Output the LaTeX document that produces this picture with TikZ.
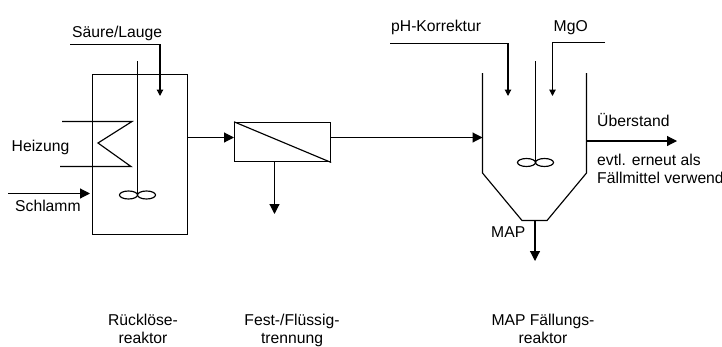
\documentclass[tikz,border=0pt]{standalone}
\usepackage{fontspec}
\setmainfont{Liberation Sans}
\usetikzlibrary{arrows.meta}
\tikzset{
 line/.style={draw=black,line width=1.15pt},
 flow/.style={line,-{Triangle[length=10pt,width=10pt]}},
 feed/.style={line,-{Triangle[length=6.5pt,width=6.5pt]}},
 lab/.style={inner sep=0pt,font=\fontsize{15.7}{17.3}\selectfont,text=black},
 captext/.style={lab,align=center,anchor=base}
}
\begin{document}
\begin{tikzpicture}[x=1pt,y=-1pt]
\useasboundingbox (0,0) rectangle (722,346);
\clip (0,0) rectangle (722,346);
% Ruecklösereaktor
\node[line,minimum width=95.2pt,minimum height=160pt,inner sep=0pt,anchor=north west] (rl) at (91.5,73.5) {};
\coordinate (rlin) at (8,193.5);
\coordinate (sa) at (70,44.5);
\coordinate (sb) at (160,44.5);
\coordinate (sc) at (160,96);
\draw[feed] (sa) -- (sb) -- (sc);
\coordinate (sh1) at (137.5,61);
\coordinate (sh2) at (137.5,195);
\draw[line] (sh1) -- (sh2);
\draw[line] (128.5,195) ellipse (9 and 4);
\draw[line] (146.5,195) ellipse (9 and 4);
\draw[line] (62,121.5) -- (132,121.5) -- (98,143) -- (131,166.5) -- (60,166.5);
\draw[flow] (rlin) -- (90,193.5);
% Filter
\node[line,minimum width=96pt,minimum height=39.5pt,inner sep=0pt,anchor=north west] (fi) at (234,121.8) {};
\draw[line] (fi.north west) -- (fi.south east);
\coordinate (fd) at (274.5,214);
\draw[flow] (fd |- fi.south) -- (fd);
\draw[flow] (rl.east |- 0,137.5) -- (fi.west |- 0,137.5);
% MAP reactor
\coordinate (ml) at (482.5,73);
\coordinate (ml2) at (482.5,173);
\coordinate (mb1) at (522,220.5);
\coordinate (mb2) at (547,220.5);
\coordinate (mr2) at (586.5,173);
\coordinate (mr) at (586.5,73);
\draw[line] (ml) -- (ml2) -- (mb1) -- (mb2) -- (mr2) -- (mr);
\draw[flow] (fi.east |- 0,137.5) -- (ml |- 0,137.5);
\draw[line] (535.5,61) -- (535.5,162.5);
\draw[line] (526.5,162.5) ellipse (9 and 4);
\draw[line] (544.5,162.5) ellipse (9 and 4);
\coordinate (pa) at (390,43.5);
\coordinate (pb) at (508,43.5);
\coordinate (pc) at (508,96);
\draw[feed] (pa) -- (pb) -- (pc);
\coordinate (ma) at (605,42.5);
\coordinate (mc) at (552.5,42.5);
\coordinate (md) at (552.5,96);
\draw[feed] (ma) -- (mc) -- (md);
\coordinate (ua) at (586.5,141);
\coordinate (ub) at (677,141);
\draw[flow] (ua) -- (ub);
\coordinate (mda) at (535,220.5);
\coordinate (mdb) at (535,261);
\draw[flow] (mda) -- (mdb);
% Labels
\node[lab,anchor=base west] (t1) at (72,37) {Säure/Lauge};
\node[lab,anchor=base west] (t2) at (11.5,151) {Heizung};
\node[lab,anchor=base west] (t3) at (15,211) {Schlamm};
\node[lab,anchor=base west] (t4) at (391,31) {pH-Korrektur};
\node[lab,anchor=base west] (t5) at (553.5,31) {MgO};
\node[lab,anchor=base west] (t6) at (597,126) {Überstand};
\node[lab,anchor=base west] (t7) at (597,165) {evtl. erneut als};
\node[lab,anchor=base west] (t8) at (597,183) {Fällmittel verwenden};
\node[lab,anchor=base west] (t9) at (491,237) {MAP};
\node[captext] (c1) at (143,343) {Rücklöse-\\reaktor};
\node[captext] (c2) at (292,343) {Fest-/Flüssig-\\trennung};
\node[captext] (c3) at (543,343) {MAP Fällungs-\\reaktor};
\end{tikzpicture}
\end{document}
